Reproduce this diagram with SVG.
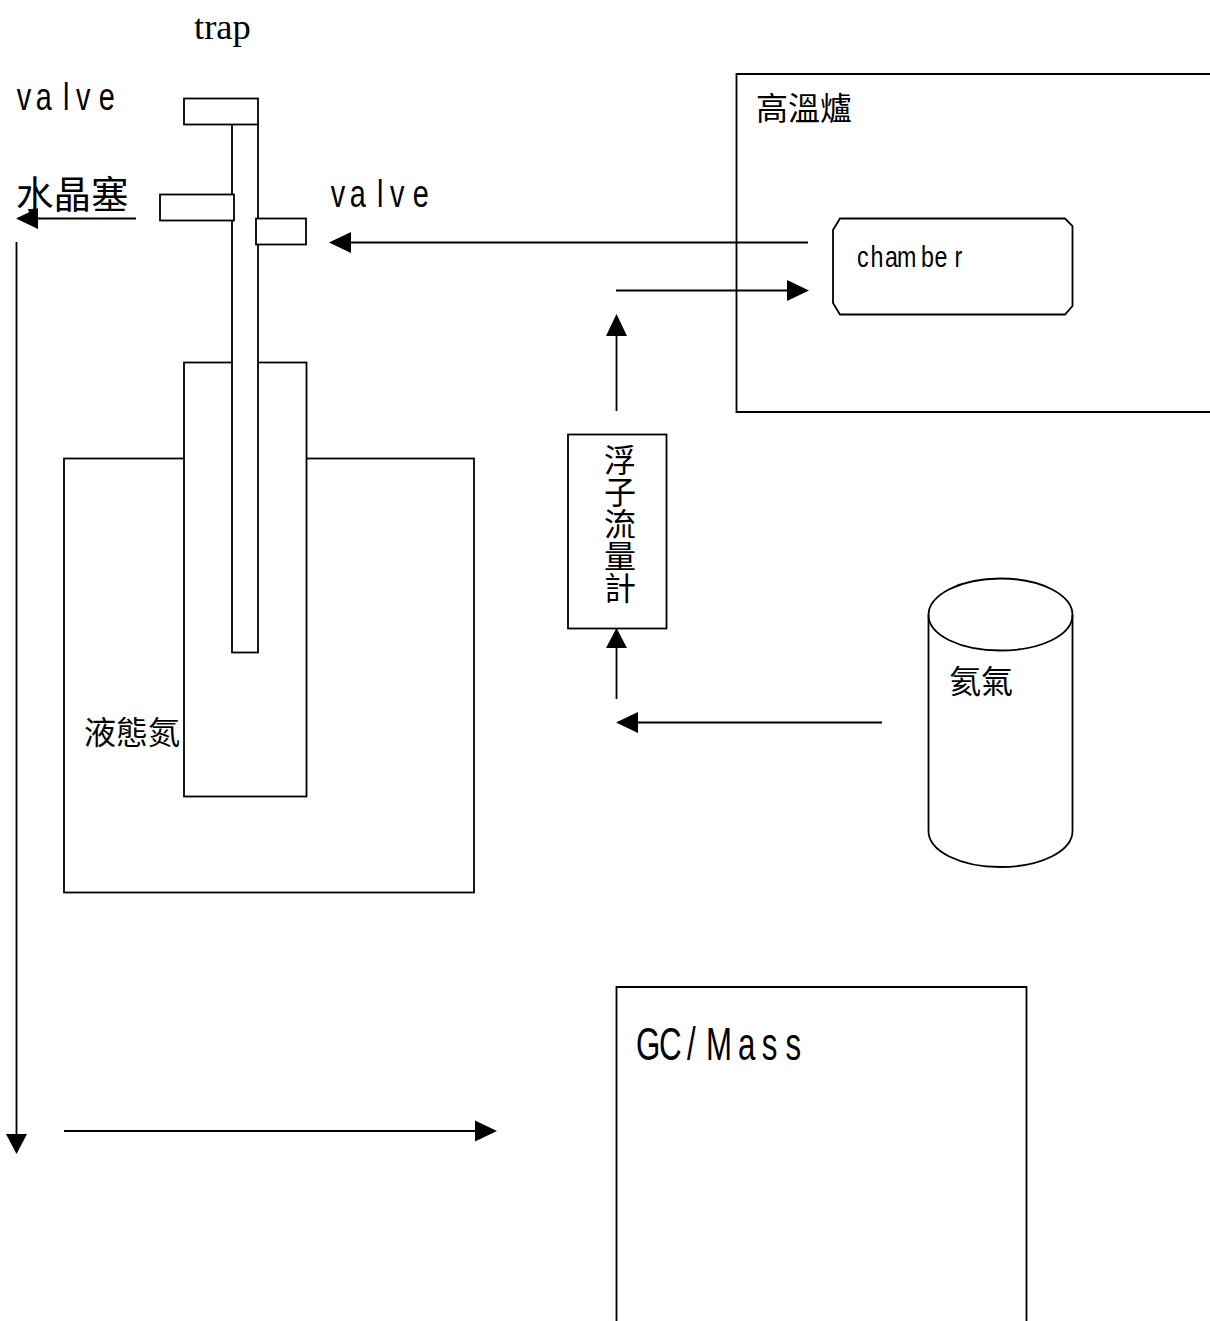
<svg xmlns="http://www.w3.org/2000/svg" width="1210" height="1321" viewBox="0 0 1210 1321">
<style>
.s{fill:#fff;stroke:#000;stroke-width:1.8}
.n{fill:none;stroke:#000;stroke-width:1.8}
.l{stroke:#000;stroke-width:1.8;fill:none}
.h{fill:#000;stroke:none}
text{fill:#000;font-family:"Liberation Sans","Noto Sans CJK TC",sans-serif}
.cjk{font-family:"Noto Sans CJK TC","Liberation Sans",sans-serif}
</style>
<rect width="1210" height="1321" fill="#fff"/>
<g id="furnace"><path class="n" d="M1210 74H736.500V412H1210"/><text class="cjk" x="756" y="120" font-size="32">高溫爐</text></g>
<g id="chamber"><path class="s" d="M840 218.500H1065L1072.500 226V306L1065 314.500H840L833 303V230Z"/><text transform="translate(857 267) scale(.8 1)" font-size="29" x="0 17 35 50 80 97 122">chamber</text></g>
<g id="ln2-tank"><rect class="s" x="64" y="458.500" width="410" height="434"/><text class="cjk" x="84" y="744" font-size="32">液態氮</text></g>
<g id="dewar"><rect class="s" x="184" y="362.500" width="122.500" height="434"/></g>
<g id="trap"><rect class="s" x="232" y="124" width="26" height="528.500"/><rect class="s" x="184" y="98.500" width="74" height="26"/><rect class="s" x="160" y="194.500" width="74" height="26"/><rect class="s" x="256" y="218.500" width="50" height="26"/></g>
<g id="flowmeter"><rect class="s" x="568" y="434.500" width="98.500" height="194"/>
<text class="cjk" x="620" y="444" font-size="32" style="writing-mode:vertical-rl">浮子流量計</text></g>
<g id="cylinder"><path class="s" d="M928.500 615C928.500 595 960 578.500 1000.500 578.500C1041 578.500 1072.500 595 1072.500 615V831C1072.500 851 1041 867 1000.500 867C960 867 928.500 851 928.500 831Z"/><path class="n" d="M928.500 615C928.500 635 960 650.500 1000.500 650.500C1041 650.500 1072.500 635 1072.500 615"/><text class="cjk" x="949" y="693" font-size="32">氦氣</text></g>
<g id="gcmass"><path class="s" d="M616.500 1321V987H1026.500V1321"/><text transform="translate(636 1060) scale(.68 1)" font-size="46" x="0 34 75 103 150 185 220">GC/Mass</text></g>
<g id="labels">
<text x="194" y="39" font-size="36.500" style="font-family:'Liberation Serif','Noto Sans CJK TC',serif">trap</text>
<text transform="translate(16 110) scale(.76 1)" font-size="38" x="1 26 62 79 109">valve</text>
<text transform="translate(330 207) scale(.76 1)" font-size="38" x="1 26 62 79 109">valve</text>
<text class="cjk" x="16" y="208" font-size="37.500">水晶塞</text>
</g>
<g id="connectors">
<path class="l" d="M136 218.500H35"/><path class="h" d="M16 218.500L38 208V229Z"/>
<path class="l" d="M808 242.500H350"/><path class="h" d="M329 242.500L351 232V253Z"/>
<path class="l" d="M616 290.500H790"/><path class="h" d="M809 290.500L787 280V301Z"/>
<path class="l" d="M616.500 411V335"/><path class="h" d="M616.500 314L606 336H627Z"/>
<path class="l" d="M616.500 699V648"/><path class="h" d="M616.500 628L606 648H627Z"/>
<path class="l" d="M882 722.500H630"/><path class="h" d="M616 722.500L638 712V733Z"/>
<path class="l" d="M16.500 242V1135"/><path class="h" d="M16.500 1154L6 1134H27Z"/>
<path class="l" d="M64 1131H478"/><path class="h" d="M497 1131L475 1120.500V1141.500Z"/>
</g>
</svg>
